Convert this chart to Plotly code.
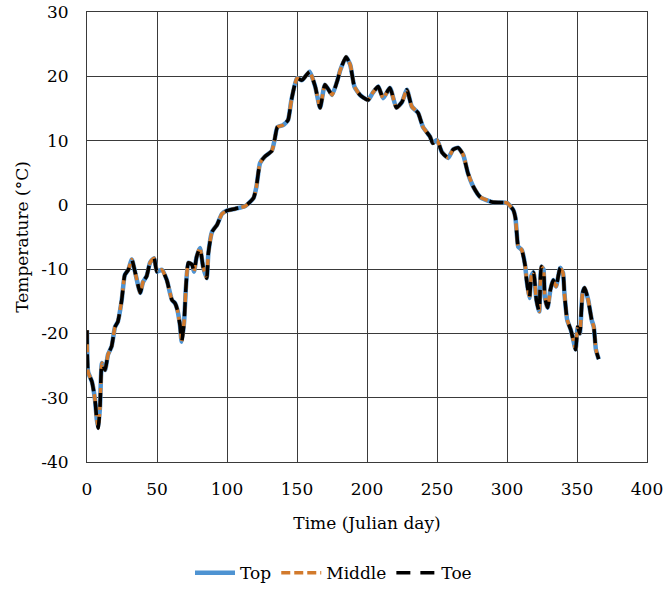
import plotly.graph_objects as go

days = [0, 0.8, 3.5, 5.7, 7, 8, 9.3, 10.7, 12.9, 15, 17.6, 20, 22, 24.8, 27, 29.5, 32, 34.3, 38, 40,
        42.6, 45, 47.9, 50, 53.5, 57, 60.7, 62.9, 64.5, 66.4, 67.6, 69.3, 70.7, 72.4, 75, 76.4, 78.3,
        80.7, 82.9, 85.5, 86.7, 89.3, 92.9, 96.4, 100, 106, 113, 119, 121, 123.6, 127, 132, 134, 136,
        140, 143.6, 146, 150, 153.5, 159, 163, 166.5, 170, 175, 178.5, 181, 185, 188, 191, 195, 200.7,
        204, 208, 211.5, 216.4, 221, 225, 228.5, 232, 236.5, 240, 245, 247, 250, 253.5, 258, 261.5,
        265, 268.7, 272, 276, 281, 290, 300, 304.5, 306, 307, 308, 310.5, 313, 314, 316, 317.5, 319,
        321, 323, 324.5, 326, 327, 329, 331, 333, 335, 338, 340, 341, 343, 345.5, 347, 349, 350.5,
        352, 354, 355.5, 358, 360.5, 362, 363.5, 365.5]

top = [-19.5, -26, -27.5, -30.3, -33.4, -34.7, -31.4, -24.6, -25.7, -23.3, -22, -19, -18.2, -14.8,
       -10.9, -10.1, -8.5, -10.4, -13.7, -12, -11.1, -9, -8.3, -10.4, -10.1, -11.7, -14.8, -15.3,
       -16.3, -18.7, -21.3, -18.4, -12.7, -9, -9.3, -10.4, -8.1, -6.7, -9.6, -11.4, -7.5, -4.2, -3.1,
       -1.4, -0.9, -0.6, -0.2, 1.1, 2.8, 6.5, 7.5, 8.4, 10.1, 12.1, 12.4, 13.2, 16.3, 19.7, 19.4, 20.7,
       18.4, 15.1, 18.7, 17.1, 19.1, 21, 23, 21.8, 18.4, 17.1, 16.3, 17.4, 18.4, 16.6, 18.2, 15.1,
       16.0, 17.9, 15.3, 14.3, 12.1, 10.6, 9.6, 10.1, 8.2, 7.3, 8.6, 8.9, 7.8, 5, 2.8, 1.2, 0.4, 0.3,
       -0.8, -2, -4.5, -6.5, -7, -9.5, -11.7, -14.5, -11, -10.5, -14.8, -16.6, -9.6, -10, -14.3, -16,
       -13.2, -11.7, -12.7, -9.8, -10.6, -13.7, -17.9, -19.4, -20.7, -22.5, -19, -20, -13.7, -12.9,
       -14.8, -17.9, -19, -22.5, -24]
middle = list(top)
toe = list(top)

x_ticks = [0, 50, 100, 150, 200, 250, 300, 350, 400]
y_ticks = [-40, -30, -20, -10, 0, 10, 20, 30]
y_tick_labels = ["-40", "-30", "-20", "-10", "0", "10", "20", "30"]

FONT = "DejaVu Serif"
FS = 17
GRID = "#3a3a3a"

fig = go.Figure()
fig.add_trace(go.Scatter(x=days, y=top, name="Top", mode="lines",
                         line=dict(color="#4E93D2", width=4.5, shape="spline", smoothing=0.5)))
fig.add_trace(go.Scatter(x=days, y=middle, name="Middle", mode="lines",
                         line=dict(color="#D27A2C", width=3.5, dash="9px,4px", shape="spline", smoothing=0.5)))
fig.add_trace(go.Scatter(x=days, y=toe, name="Toe", mode="lines",
                         line=dict(color="#000000", width=3.5, dash="14px,10px", shape="spline", smoothing=0.5)))

fig.update_layout(
    width=667, height=591,
    margin=dict(l=87, r=20, t=12, b=129),
    paper_bgcolor="white", plot_bgcolor="white",
    font=dict(family=FONT, size=FS, color="black"),
    showlegend=True,
    legend=dict(orientation="h", x=0.5, xanchor="center", xref="container",
                y=0.03, yanchor="middle", yref="container",
                font=dict(family=FONT, size=FS, color="black"), itemwidth=40, tracegroupgap=0),
    xaxis=dict(range=[0, 400], tickvals=x_ticks, showgrid=True, gridcolor=GRID, gridwidth=1,
               showline=True, linecolor=GRID, mirror=True, zeroline=False, ticks="",
               automargin=False, ticklabelstandoff=12,
               title=dict(text="Time (Julian day)", font=dict(family=FONT, size=FS), standoff=18),
               tickfont=dict(family=FONT, size=FS)),
    yaxis=dict(range=[-40, 30], tickvals=y_ticks, ticktext=y_tick_labels, showgrid=True,
               gridcolor=GRID, gridwidth=1,
               showline=True, linecolor=GRID, mirror=True, zeroline=True, zerolinecolor=GRID,
               zerolinewidth=1, ticks="", automargin=False, ticklabelstandoff=14,
               title=dict(text="Temperature (°C)", font=dict(family=FONT, size=FS), standoff=8),
               tickfont=dict(family=FONT, size=FS)),
)

fig.write_html("out.html")
